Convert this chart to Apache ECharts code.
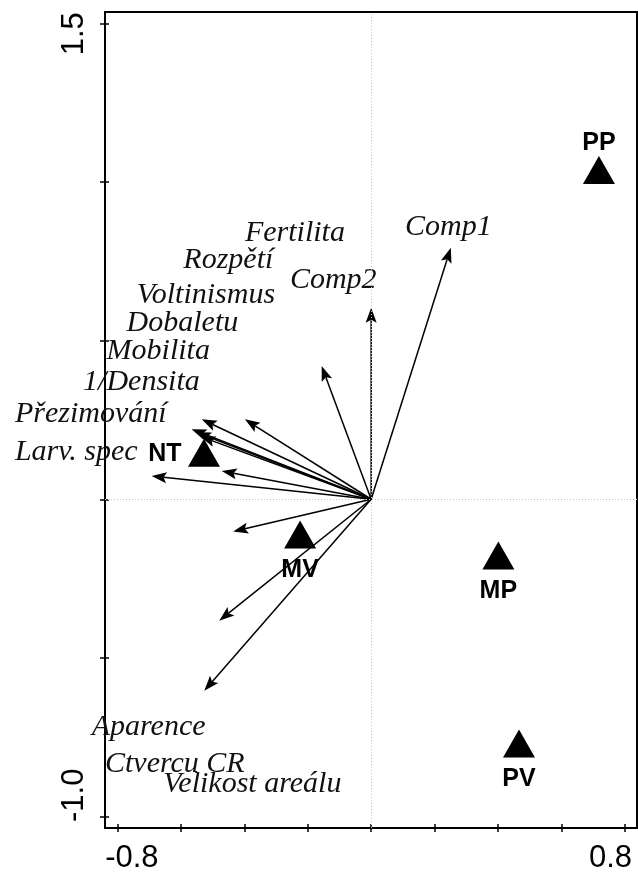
<!DOCTYPE html>
<html>
<head>
<meta charset="utf-8">
<script src="https://cdn.jsdelivr.net/npm/echarts@6/dist/echarts.min.js"></script>
<style>
  html, body { margin: 0; padding: 0; background: #fff; }
  #chart { width: 638px; height: 874px; }
</style>
</head>
<body>
<div id="chart"></div>
<script>
// Biplot: trait vectors drawn as arrows from the origin, sites as filled triangles.

// Arrow tips (axis 1, axis 2)
const arrowX = [0.251, 0.000, -0.156, -0.398, -0.534, -0.566, -0.552, -0.538, -0.471, -0.692, -0.435, -0.479, -0.526];
const arrowY = [0.793, 0.604, 0.420, 0.252, 0.252, 0.221, 0.211, 0.198, 0.089, 0.073, -0.102, -0.383, -0.604];

// Variable names and the points where their text starts
const varNames = ['Comp1', 'Comp2', 'Fertilita', 'Rozpětí', 'Voltinismus', 'Dobaletu', 'Mobilita',
                  '1/Densita', 'Přezimování', 'Larv. spec', 'Aparence', 'Ctvercu CR', 'Velikost areálu'];
const varTextX = [0.107, -0.256, -0.398, -0.592, -0.739, -0.771, -0.834, -0.908, -1.123, -1.123, -0.881, -0.839, -0.655];
const varTextY = [0.860, 0.691, 0.839, 0.754, 0.643, 0.557, 0.467, 0.368, 0.268, 0.148, -0.720, -0.835, -0.898];

// Site scores
const siteNames = ['PP', 'MP', 'PV', 'MV', 'NT'];
const siteX = [0.718, 0.401, 0.466, -0.224, -0.527];
const siteY = [1.024, -0.192, -0.785, -0.126, 0.132];

// Axis ticks and labels
const xTicks = [-0.8, -0.6, -0.4, -0.2, 0, 0.2, 0.4, 0.6, 0.8];
const xTickLabels = [-0.8, 0.8];
const yTicks = [-1.0, -0.5, 0, 0.5, 1.0, 1.5];
const yTickLabels = [-1.0, 1.5];

const chart = echarts.init(document.getElementById('chart'), null, { renderer: 'canvas' });

const arrowData = arrowX.map((x, i) => [x, arrowY[i]]);
const textData = varNames.map((n, i) => ({ name: n, value: [varTextX[i], varTextY[i]] }));

// label placement for each site relative to its triangle
const siteLabelOffset = { PP: [0, -27], MP: [0, 36], PV: [0, 36], MV: [0, 36], NT: [-39, 1] };
const siteData = siteNames.map((n, i) => ({
  name: n,
  value: [siteX[i], siteY[i]],
  label: { offset: siteLabelOffset[n] }
}));

function arrowItem(params, api) {
  const o = api.coord([0, 0]);
  const t = api.coord([api.value(0), api.value(1)]);
  const dx = t[0] - o[0], dy = t[1] - o[1];
  const len = Math.hypot(dx, dy);
  const ux = dx / len, uy = dy / len;
  const hl = 15, hw = 5.5;
  const bx = t[0] - ux * hl, by = t[1] - uy * hl;
  const px = -uy, py = ux;
  return {
    type: 'group',
    children: [
      { type: 'line', shape: { x1: o[0], y1: o[1], x2: bx + ux * 3, y2: by + uy * 3 },
        style: { stroke: '#000', lineWidth: 1.5 } },
      { type: 'polygon',
        shape: { points: [[t[0], t[1]], [bx + px * hw, by + py * hw], [bx + ux * 3, by + uy * 3], [bx - px * hw, by - py * hw]] },
        style: { fill: '#000' } }
    ]
  };
}

const axisFont = 'Liberation Sans';

chart.setOption({
  animation: false,
  backgroundColor: '#fff',
  grid: { left: 105, right: 1, top: 12, bottom: 45, show: true, borderColor: '#000', borderWidth: 2, backgroundColor: 'transparent' },
  xAxis: {
    type: 'value', min: -0.839, max: 0.838, offset: -4,
    axisLine: { show: false, onZero: false },
    splitLine: { show: false },
    axisTick: { show: true, length: 8, customValues: xTicks, lineStyle: { color: '#000', width: 1.5 } },
    axisLabel: {
      customValues: xTickLabels, margin: 19, color: '#000', fontFamily: axisFont, fontSize: 31,
      formatter: v => (v < 0 ? '{l|' + v.toFixed(1) + '}' : '{r|' + v.toFixed(1) + '}'),
      rich: {
        l: { fontFamily: axisFont, fontSize: 31, color: '#000', padding: [0, 0, 0, 29] },
        r: { fontFamily: axisFont, fontSize: 31, color: '#000', padding: [0, 29, 0, 0] }
      }
    }
  },
  yAxis: {
    type: 'value', min: -1.037, max: 1.537, offset: -4,
    axisLine: { show: false, onZero: false },
    splitLine: { show: false },
    axisTick: { show: true, length: 9, customValues: yTicks, lineStyle: { color: '#000', width: 1.5 } },
    axisLabel: {
      customValues: yTickLabels, rotate: 90, margin: 19, color: '#000', fontFamily: axisFont, fontSize: 31,
      formatter: v => (v < 0 ? '{l|' + v.toFixed(1) + '}' : '{r|' + v.toFixed(1) + '}'),
      rich: {
        l: { fontFamily: axisFont, fontSize: 31, color: '#000', padding: [0, 0, 0, 42] },
        r: { fontFamily: axisFont, fontSize: 31, color: '#000', padding: [0, 20, 0, 0] }
      }
    }
  },
  series: [
    {
      // zero reference lines
      type: 'scatter', data: [], silent: true,
      markLine: {
        silent: true, symbol: 'none', label: { show: false },
        lineStyle: { color: '#c4c4c4', type: [1, 2], width: 1, opacity: 1 },
        data: [{ xAxis: 0 }, { yAxis: 0 }]
      }
    },
    {
      type: 'custom', renderItem: arrowItem, data: arrowData, silent: true, clip: false, z: 3
    },
    {
      type: 'scatter', data: textData, symbolSize: 0, clip: false, silent: true, z: 4,
      itemStyle: { opacity: 1 },
      label: {
        show: true, position: 'right', distance: 0, formatter: '{b}',
        fontFamily: 'Liberation Serif', fontStyle: 'italic', fontSize: 30, color: '#111', opacity: 1,
        align: 'left', verticalAlign: 'middle'
      }
    },
    {
      type: 'scatter', data: siteData, symbol: 'triangle', symbolSize: [32, 28], symbolOffset: [0, -4.6],
      itemStyle: { color: '#000', opacity: 1 }, clip: false, silent: true, z: 5,
      label: {
        show: true, position: 'inside', formatter: '{b}', opacity: 1,
        fontFamily: axisFont, fontWeight: 'bold', fontSize: 25, color: '#000'
      }
    }
  ]
});
</script>
</body>
</html>
